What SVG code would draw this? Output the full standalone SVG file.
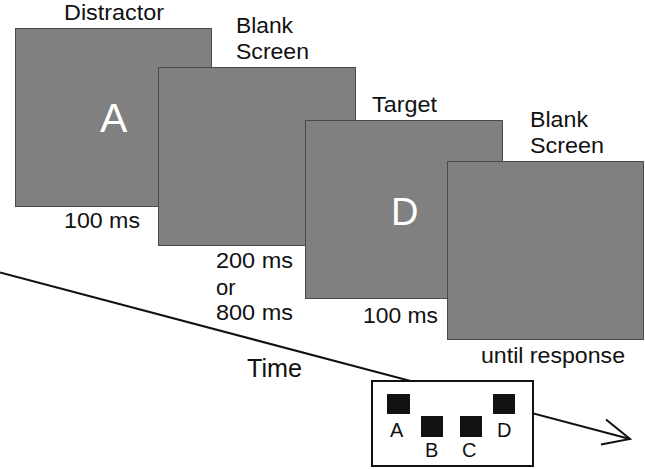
<svg xmlns="http://www.w3.org/2000/svg" width="645" height="469" viewBox="0 0 645 469">
<style>
.scr{fill:#808080;stroke:#4a4a4a;stroke-width:1}
.lbl{font-family:"Liberation Sans",Arial,sans-serif;font-size:22px;fill:#111}
.big{font-family:"Liberation Sans",Arial,sans-serif;fill:#fff}
.key{font-family:"Liberation Sans",Arial,sans-serif;font-size:20px;fill:#111}
.ln{stroke:#111;stroke-width:2;fill:none}
</style>
<rect width="645" height="469" fill="#fff"/>
<g id="connectors">
<line class="ln" x1="0" y1="272.5" x2="630" y2="439"/>
<polyline class="ln" points="606,419.5 630,439 601,444.5"/>
</g>
<g id="distractor">
<rect class="scr" x="15.5" y="28.5" width="196" height="178"/>
<text class="lbl" x="64" y="19.5" textLength="100" lengthAdjust="spacingAndGlyphs">Distractor</text>
<text class="big" x="100" y="132" font-size="41">A</text>
<text class="lbl" x="64" y="228" textLength="76" lengthAdjust="spacingAndGlyphs">100 ms</text>
</g>
<g id="blank1">
<rect class="scr" x="158.5" y="67.5" width="197" height="178"/>
<text class="lbl" x="236" y="33" textLength="57" lengthAdjust="spacingAndGlyphs">Blank</text>
<text class="lbl" x="236" y="59" textLength="73" lengthAdjust="spacingAndGlyphs">Screen</text>
<text class="lbl" x="216" y="268" textLength="77" lengthAdjust="spacingAndGlyphs">200 ms</text>
<text class="lbl" x="216" y="295">or</text>
<text class="lbl" x="216" y="320" textLength="77" lengthAdjust="spacingAndGlyphs">800 ms</text>
</g>
<g id="target">
<rect class="scr" x="305.5" y="120.5" width="197" height="178"/>
<text class="lbl" x="372" y="112" textLength="65" lengthAdjust="spacingAndGlyphs">Target</text>
<text class="big" x="391" y="225" font-size="38">D</text>
<text class="lbl" x="363" y="323" textLength="75" lengthAdjust="spacingAndGlyphs">100 ms</text>
</g>
<g id="blank2">
<rect class="scr" x="447.5" y="161.5" width="196" height="178"/>
<text class="lbl" x="530" y="127" textLength="58" lengthAdjust="spacingAndGlyphs">Blank</text>
<text class="lbl" x="530" y="153" textLength="74" lengthAdjust="spacingAndGlyphs">Screen</text>
<text class="lbl" x="481" y="363" textLength="144" lengthAdjust="spacingAndGlyphs">until response</text>
</g>
<g id="time">
<text class="lbl" x="247" y="377" style="font-size:25px" textLength="55" lengthAdjust="spacingAndGlyphs">Time</text>
</g>
<g id="response">
<rect x="372" y="381" width="161" height="85" fill="#fff" stroke="#111" stroke-width="2"/>
<rect x="387" y="394" width="23" height="20" fill="#111"/>
<rect x="421" y="416" width="22" height="21" fill="#111"/>
<rect x="460" y="416" width="22" height="21" fill="#111"/>
<rect x="493" y="394" width="22" height="20" fill="#111"/>
<text class="key" x="390" y="437">A</text>
<text class="key" x="425" y="457">B</text>
<text class="key" x="462" y="457">C</text>
<text class="key" x="497" y="437">D</text>
</g>
</svg>
